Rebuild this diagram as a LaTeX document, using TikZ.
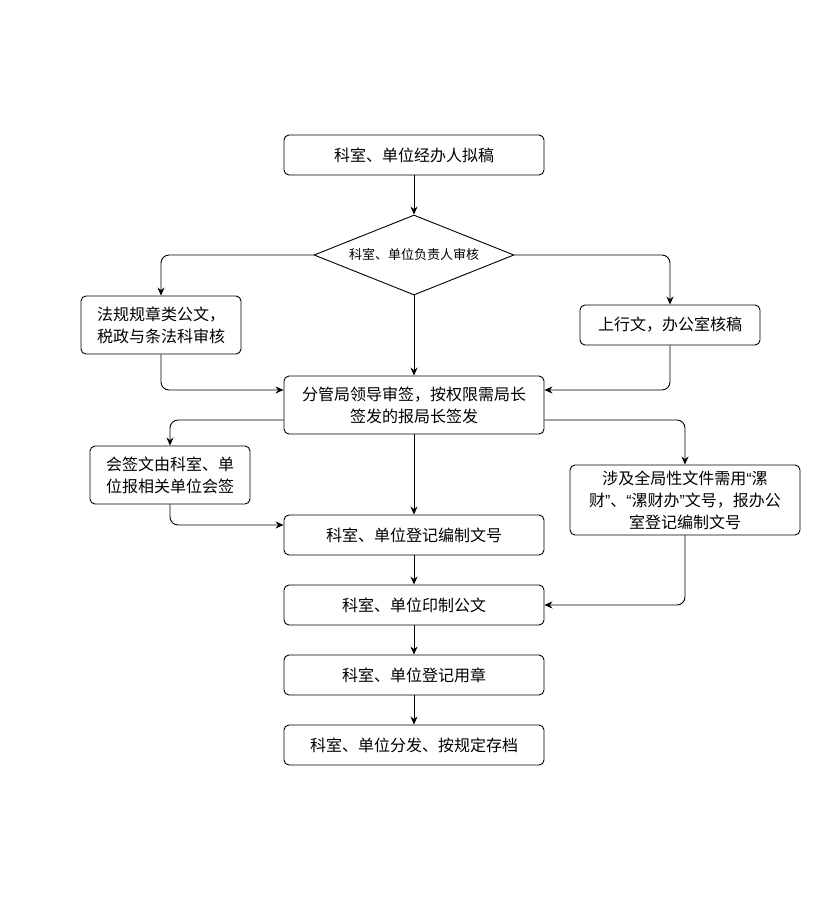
\documentclass[tikz,border=0pt]{standalone}
\usepackage{fontspec}
\setmainfont{Noto Sans CJK SC}
\newfontfamily\quotefont{Liberation Sans}
\newcommand{\openq}{{\quotefont “}}
\newcommand{\closeq}{{\quotefont ”}}
\usetikzlibrary{shapes.geometric,arrows.meta}
\begin{document}
\begin{tikzpicture}[x=1pt,y=-1pt,line width=0.9pt,
    box/.style={draw,rounded corners=5pt,align=center,inner sep=0pt,
      font=\fontsize{16}{22}\selectfont},
    dia/.style={draw,diamond,aspect=2.5,inner sep=0pt,minimum width=200pt,
      minimum height=80pt,font=\fontsize{13}{15}\selectfont},
    link/.style={-{Stealth[length=8pt,width=7pt]},rounded corners=8pt}]
  \useasboundingbox (0,0) rectangle (821,919);
  \node[box,minimum width=260pt,minimum height=40pt] (draft) at (414,155) {科室、单位经办人拟稿};
  \node[dia] (head) at (414,255) {科室、单位负责人审核};
  \node[box,minimum width=160pt,minimum height=58pt] (law) at (161,325) {法规规章类公文，\\税政与条法科审核};
  \node[box,minimum width=180pt,minimum height=40pt] (up) at (670,325) {上行文，办公室核稿};
  \node[box,minimum width=260pt,minimum height=58pt] (lead) at (414,405) {分管局领导审签，按权限需局长\\签发的报局长签发};
  \node[box,minimum width=160pt,minimum height=58pt] (sign) at (170,475) {会签文由科室、单\\位报相关单位会签};
  \node[box,minimum width=230pt,minimum height=70pt] (glob) at (685,500) {涉及全局性文件需用\openq 漯\\财\closeq、\openq 漯财办\closeq 文号，报办公\\室登记编制文号};
  \node[box,minimum width=260pt,minimum height=40pt] (reg) at (414,535) {科室、单位登记编制文号};
  \node[box,minimum width=260pt,minimum height=40pt] (print) at (414,605) {科室、单位印制公文};
  \node[box,minimum width=260pt,minimum height=40pt] (seal) at (414,675) {科室、单位登记用章};
  \node[box,minimum width=260pt,minimum height=40pt] (file) at (414,745) {科室、单位分发、按规定存档};

  % main line
  \draw[link] (draft) -- (head);
  \draw[link] (head) -- (lead);
  \draw[link] (lead) -- (reg);
  \draw[link] (reg) -- (print);
  \draw[link] (print) -- (seal);
  \draw[link] (seal) -- (file);
  % branches
  \draw[link] (head.west) -| (law.north);
  \draw[link] (head.east) -| (up.north);
  \draw[link] (law.south) |- ([yshift=15pt]lead.west);
  \draw[link] (up.south) |- ([yshift=15pt]lead.east);
  \draw[link] ([yshift=-15pt]lead.west) -| (sign.north);
  \draw[link] ([yshift=-15pt]lead.east) -| (glob.north);
  \draw[link] (sign.south) |- ([yshift=10pt]reg.west);
  \draw[link] (glob.south) |- (print.east);
\end{tikzpicture}
\end{document}
